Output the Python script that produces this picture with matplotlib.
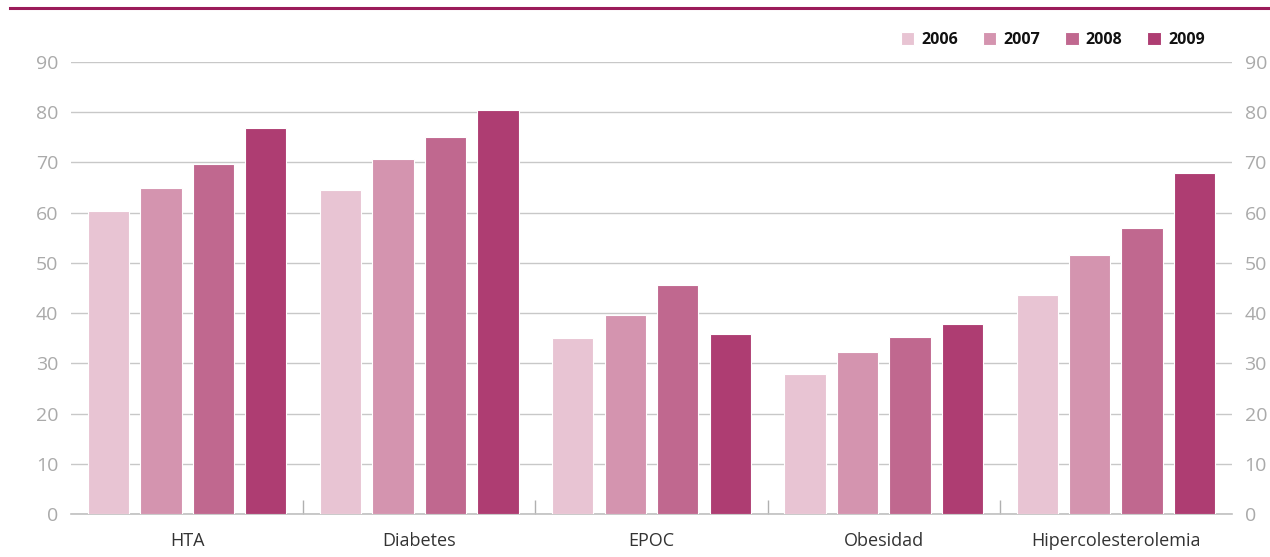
import matplotlib
matplotlib.use("Agg")
import matplotlib.pyplot as plt
import numpy as np
from matplotlib.lines import Line2D

categories = ["HTA", "Diabetes", "EPOC", "Obesidad", "Hipercolesterolemia"]
years = ["2006", "2007", "2008", "2009"]
values = {
    "2006": [60.4, 64.5, 35.0, 27.9, 43.7],
    "2007": [65.0, 70.7, 39.6, 32.2, 51.5],
    "2008": [69.6, 75.1, 45.6, 35.2, 57.0],
    "2009": [76.8, 80.4, 35.8, 37.8, 67.9],
}
colors = ["#e8c4d3", "#d494af", "#c0688f", "#ae3d72"]
yticks = [0, 10, 20, 30, 40, 50, 60, 70, 80, 90]

plt.rcParams['font.family'] = ['Open Sans', 'DejaVu Sans']

fig = plt.figure(figsize=(12.7, 5.57), dpi=100)
ax = fig.add_axes([71/1270, 1-514/557, (1232-71)/1270, (514-62)/557])

x = np.arange(len(categories))
step = 0.226
width = 0.178
for i, yr in enumerate(years):
    ax.bar(x + (i-1.5)*step, values[yr], width=width, color=colors[i],
           edgecolor="white", linewidth=0.8, label=yr, zorder=3)

ax.set_xlim(-0.5, len(categories)-0.5)
ax.set_ylim(0, 90)
ax.set_yticks(yticks)
ax.yaxis.grid(True, color="#c8c8c8", linewidth=1.0, zorder=0)
ax.set_axisbelow(True)
for s in ["top", "left", "right"]:
    ax.spines[s].set_visible(False)
ax.spines["bottom"].set_color("#c0c0c0")
ax.spines["bottom"].set_linewidth(1.2)

ax.set_xticks(x)
ax.set_xticklabels(categories, fontsize=13, color="#333333")
ax.tick_params(axis="x", length=0, pad=13)
ax.set_xticks(np.arange(0.5, len(categories)-0.5, 1), minor=True)
ax.tick_params(axis="x", which="minor", direction="in", length=10, color="#b0b0b0", width=1)

ax.tick_params(axis="y", length=0, pad=9, labelsize=14, labelcolor="#aaaaaa",
               left=True, right=True, labelleft=True, labelright=True)

leg = ax.legend(loc="center right", bbox_to_anchor=(1 - 21/1161, 1 + 22/452), ncol=4, frameon=False,
                fontsize=11.5, handlelength=0.85, handleheight=0.85, columnspacing=1.55,
                handletextpad=0.45, borderaxespad=0)
for t in leg.get_texts():
    t.set_fontweight("bold")
    t.set_color("#111111")

fig.add_artist(Line2D([10/1270, 1.0], [1-7.5/557, 1-7.5/557], color="#9b1b5a", linewidth=2.2,
                      transform=fig.transFigure))

fig.savefig("out.png", dpi=100)
